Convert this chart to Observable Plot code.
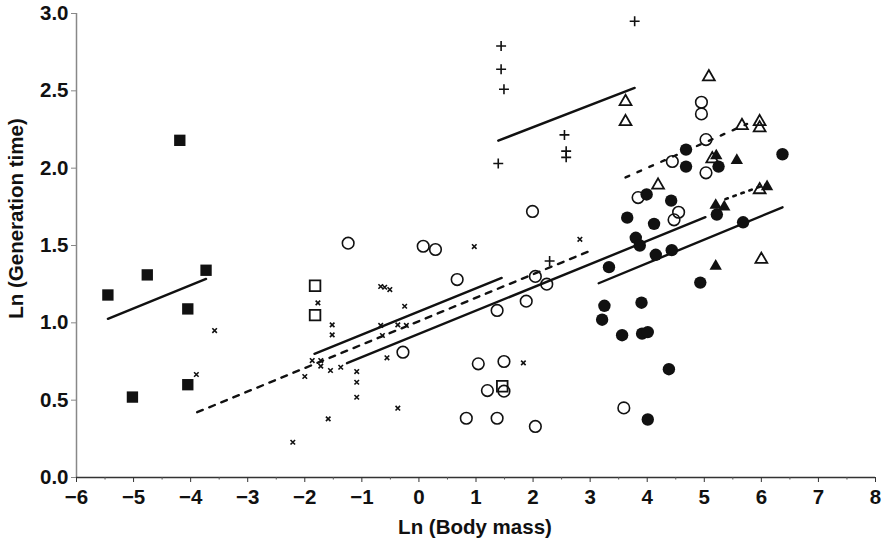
<!DOCTYPE html>
<html>
<head>
<meta charset="utf-8">
<script src="https://cdn.jsdelivr.net/npm/d3@7"></script>
<script src="https://cdn.jsdelivr.net/npm/@observablehq/plot@0.6"></script>
<style>
  html, body { margin: 0; padding: 0; background: #fff; }
  #chart svg { display: block; }
</style>
</head>
<body>
<div id="chart"></div>
<script>
// ---- data ----
const xTicks = [-6, -5, -4, -3, -2, -1, 0, 1, 2, 3, 4, 5, 6, 7, 8];
const xMinorTicks = [-5.5, -4.5, -3.5, -2.5, -1.5, -0.5, 0.5, 1.5, 2.5, 3.5, 4.5, 5.5, 6.5, 7.5];
const yTicks = [0, 0.5, 1.0, 1.5, 2.0, 2.5, 3.0];
const xLabel = "Ln (Body mass)";
const yLabel = "Ln (Generation time)";

const filledSquares = [[-5.45,1.18],[-4.76,1.31],[-4.05,1.09],[-3.73,1.34],[-5.02,0.52],[-4.05,0.60],[-4.19,2.18]];
const openSquares = [[-1.82,1.24],[-1.82,1.05],[1.46,0.59]];
const openCircles = [[-1.24,1.515],[0.075,1.495],[0.29,1.474],[1.99,1.72],[0.67,1.28],[2.04,1.30],[2.24,1.25],
  [1.88,1.14],[1.37,1.08],[-0.28,0.81],[1.04,0.735],[1.49,0.75],[1.2,0.562],[1.49,0.558],[0.83,0.383],
  [1.37,0.383],[2.04,0.33],[3.59,0.45],[4.95,2.426],[4.95,2.351],[5.03,2.185],[4.44,2.043],[5.03,1.97],
  [3.84,1.81],[4.55,1.715],[4.47,1.666]];
const filledCircles = [[4.68,2.12],[4.68,2.01],[3.99,1.83],[4.42,1.79],[3.65,1.68],[4.12,1.64],[3.80,1.55],
  [3.87,1.50],[4.15,1.44],[4.43,1.47],[5.68,1.65],[6.37,2.09],[5.25,2.01],[3.33,1.36],[4.93,1.26],[3.25,1.11],
  [3.21,1.02],[3.90,1.13],[3.56,0.92],[3.91,0.93],[4.01,0.94],[4.38,0.70],[4.01,0.375],[5.22,1.70]];
const filledTriangles = [[5.21,2.08],[5.57,2.05],[6.1,1.88],[5.2,1.366],[5.2,1.76],[5.35,1.75]];
const openTriangles = [[5.08,2.59],[3.62,2.43],[3.62,2.30],[4.19,1.89],[5.66,2.275],[5.97,2.30],[5.97,2.26],
  [5.97,1.86],[5.14,2.06],[6.0,1.41]];
const plusPoints = [[1.44,2.79],[1.44,2.64],[1.49,2.51],[1.39,2.03],[2.55,2.215],[2.58,2.11],[2.58,2.07],
  [3.78,2.95],[2.29,1.40]];
const timesPoints = [[-3.58,0.95],[-3.9,0.666],[-2.21,0.228],[0.97,1.493],[-1.77,1.129],[-0.67,1.235],
  [-0.51,1.215],[-0.25,1.107],[-1.52,0.987],[-1.52,0.922],[-0.67,0.983],[-0.64,0.918],[-0.37,0.987],
  [-0.22,0.983],[-1.87,0.756],[-1.72,0.756],[-1.72,0.72],[-1.55,0.692],[-1.37,0.713],[-2.0,0.653],
  [-0.56,0.774],[-1.09,0.685],[-1.09,0.616],[-1.09,0.519],[-0.37,0.448],[-1.59,0.379],[1.83,0.741],
  [2.82,1.54],[-0.6,1.23]];

// fitted lines (endpoints)
const squaresFit = [[-5.45,1.026],[-3.73,1.284]];
const plusFit = [[1.39,2.178],[3.78,2.519]];
const solidFitA = [[-1.83,0.80],[1.45,1.29]];
const solidFitB = [[-1.26,0.739],[5.02,1.683]];
const solidFitC = [[3.15,1.256],[6.37,1.747]];
const dashedFitA = [[-3.885,0.422],[3.01,1.467]];
const dashedFitB = [[3.62,1.94],[5.75,2.286]];
const dottedFitC = [[5.37,1.80],[6.19,1.909]];

// ---- chart ----
const X = d => d[0], Y = d => d[1];
const ink = "#111";
const font = "'Liberation Sans', Arial, Helvetica, sans-serif";

const chart = Plot.plot({
  width: 885,
  height: 543,
  marginLeft: 76,
  marginRight: 10,
  marginTop: 13,
  marginBottom: 66,
  style: { fontFamily: font, background: "#fff", color: ink },
  x: { domain: [-6, 8] },
  y: { domain: [0, 3] },
  marks: [
    Plot.ruleX([-6], { stroke: "#888", strokeWidth: 1.5 }),
    Plot.ruleY([0], { stroke: "#333", strokeWidth: 1.5 }),
    Plot.axisY({ ticks: yTicks, tickFormat: d3.format(".1f"), tickSize: 5, tickPadding: 3,
      stroke: "#888", label: null }),
    Plot.axisX({ ticks: xMinorTicks, tickFormat: () => "", tickSize: 2.5, stroke: "#555", label: null }),
    Plot.axisX({ ticks: xTicks, tickFormat: d => d < 0 ? "\u2212" + Math.abs(d) : String(d), tickSize: 5,
      tickPadding: 7, stroke: "#333", label: null }),
    // fitted lines
    Plot.line(squaresFit, { x: X, y: Y, stroke: ink, strokeWidth: 2.4 }),
    Plot.line(plusFit, { x: X, y: Y, stroke: ink, strokeWidth: 2.4 }),
    Plot.line(solidFitA, { x: X, y: Y, stroke: ink, strokeWidth: 2.4 }),
    Plot.line(solidFitB, { x: X, y: Y, stroke: ink, strokeWidth: 2.4 }),
    Plot.line(solidFitC, { x: X, y: Y, stroke: ink, strokeWidth: 2.4 }),
    Plot.line(dashedFitA, { x: X, y: Y, stroke: ink, strokeWidth: 2.4, strokeDasharray: "6,7" }),
    Plot.line(dashedFitB, { x: X, y: Y, stroke: ink, strokeWidth: 2.4, strokeDasharray: "4,9" }),
    Plot.line(dottedFitC, { x: X, y: Y, stroke: ink, strokeWidth: 2.6, strokeDasharray: "2.5,6" }),
    // points
    Plot.dot(timesPoints, { x: X, y: Y, symbol: "times", r: 2.2, stroke: ink, strokeWidth: 1.6 }),
    Plot.dot(plusPoints, { x: X, y: Y, symbol: "plus", r: 3.3, stroke: ink, strokeWidth: 1.6 }),
    Plot.dot(openCircles, { x: X, y: Y, symbol: "circle", r: 5.8, stroke: ink, strokeWidth: 1.6, fill: "none" }),
    Plot.dot(filledCircles, { x: X, y: Y, symbol: "circle", r: 6.2, fill: ink, stroke: "none" }),
    Plot.dot(filledSquares, { x: X, y: Y, symbol: "square", r: 6.4, fill: ink, stroke: "none" }),
    Plot.dot(openSquares, { x: X, y: Y, symbol: "square", r: 6.0, stroke: ink, strokeWidth: 1.8, fill: "none" }),
    Plot.dot(openTriangles, { x: X, y: Y, symbol: "triangle", r: 4.4, stroke: ink, strokeWidth: 1.8, fill: "none" }),
    Plot.dot(filledTriangles, { x: X, y: Y, symbol: "triangle", r: 4.6, fill: ink, stroke: "none" })
  ]
});

// tick label typography
chart.querySelectorAll('[aria-label="y-axis tick label"]').forEach(g => {
  g.setAttribute("font-size", "20.5");
  g.querySelectorAll("text").forEach(t => { t.setAttribute("font-size", "20.5"); t.setAttribute("font-weight", "bold"); });
});
chart.querySelectorAll('[aria-label="x-axis tick label"]').forEach(g => {
  g.setAttribute("font-size", "20.5");
  g.querySelectorAll("text").forEach(t => { t.setAttribute("font-size", "20.5"); t.setAttribute("font-weight", "bold"); });
});

// axis titles
const svg = d3.select(chart);
svg.append("text")
  .attr("x", 475).attr("y", 526)
  .attr("text-anchor", "middle")
  .attr("dominant-baseline", "central")
  .attr("fill", ink)
  .attr("font-size", 20.5).attr("font-weight", "bold")
  .text(xLabel);
svg.append("text")
  .attr("transform", "translate(15.5,218.5) rotate(-90)")
  .attr("text-anchor", "middle")
  .attr("dominant-baseline", "central")
  .attr("fill", ink)
  .attr("font-size", 20.5).attr("font-weight", "bold")
  .text(yLabel);

document.getElementById("chart").appendChild(chart);
</script>
</body>
</html>
